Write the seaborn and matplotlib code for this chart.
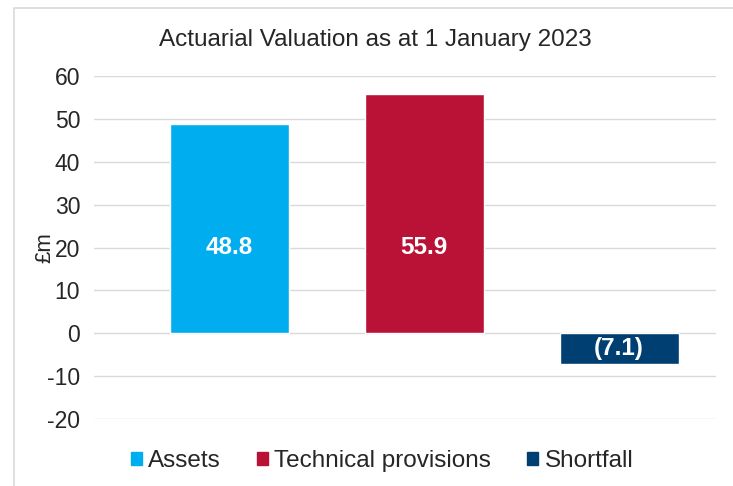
import matplotlib
matplotlib.use("Agg")
import matplotlib.pyplot as plt
import matplotlib.patches as mpatches
import seaborn as sns
import pandas as pd

categories = ["Assets", "Technical provisions", "Shortfall"]
values = [48.8, 55.9, -7.1]
labels = ["48.8", "55.9", "(7.1)"]
colors = ["#00AEEF", "#BA1237", "#003F72"]
y_ticks = [-20, -10, 0, 10, 20, 30, 40, 50, 60]

sns.set_style("white")
plt.rcParams['font.family'] = ['Liberation Sans', 'DejaVu Sans']
fs = 17.5

df = pd.DataFrame({"category": categories, "value": values})

fig = plt.figure(figsize=(7.33, 4.86), dpi=100)
ax = fig.add_axes([94 / 733, 1 - 419 / 486, 622 / 733, 343 / 486])

sns.barplot(data=df, x="category", y="value", hue="category", palette=colors,
            width=0.61, saturation=1, legend=False, ax=ax, zorder=3)

ax.set_xlim(-0.695, 2.497)
ax.set_ylim(-20, 60)
ax.set_yticks(y_ticks)
ax.set_yticklabels([str(t) for t in y_ticks], fontsize=16.5)
ax.yaxis.grid(True, color="#D9D9D9", linewidth=1, zorder=0)
ax.set_axisbelow(True)
ax.tick_params(axis="y", length=0, pad=10)
ax.set_xticks([])
ax.set_xlabel("")
ax.set_ylabel("")
for s in ax.spines.values():
    s.set_visible(False)

# data labels, white bold inside the bars
for i, (v, lab) in enumerate(zip(values, labels)):
    ypos = 20 if v > 0 else v / 2
    ax.text(i, ypos, lab, color="white", fontsize=fs, fontweight="bold",
            ha="center", va="center", zorder=4)

fig.text(45 / 733, 1 - 248 / 486, "£m", fontsize=16, rotation=90,
         ha="center", va="center")
fig.text(375 / 733, 1 - 40 / 486, "Actuarial Valuation as at 1 January 2023",
         fontsize=fs, ha="center", va="center")

handles = [mpatches.Patch(color=c, label=l) for c, l in zip(colors, categories)]
fig.legend(handles=handles, loc="center", bbox_to_anchor=(382 / 733, 1 - 461 / 486),
           ncol=3, frameon=False, fontsize=fs, handlelength=0.45, handleheight=0.45,
           handletextpad=0.25, columnspacing=1.5)

# light grey outer border
fig.patches.append(mpatches.Rectangle((14 / 733, -0.1), 1.2, 1.1 - 8 / 486,
                                      transform=fig.transFigure, fill=False,
                                      edgecolor="#D9D9D9", linewidth=1.2))

fig.savefig("out.png", dpi=100)
